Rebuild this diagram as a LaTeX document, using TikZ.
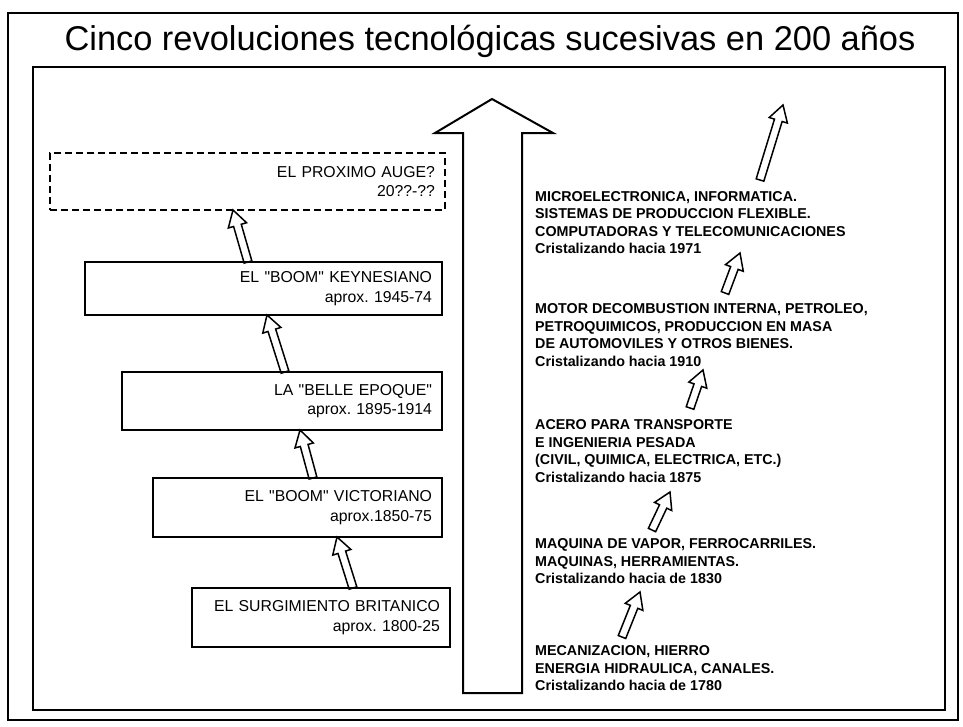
\documentclass[tikz,border=0pt]{standalone}
\usepackage{fontspec}
\setmainfont{Liberation Sans}
\frenchspacing
\usetikzlibrary{calc}
\usetikzlibrary{positioning}
\tikzset{
    Period/.style = {draw=black, line width=1.8pt, align=right, inner xsep=10pt, inner ysep=0pt, font=\fontsize{15.8}{19.5}\selectfont}
}
\tikzset{
    Edge/.style = {draw=black, line width=1.5pt, line join=miter, to path={
        ($(\tikztostart)!4pt!90:(\tikztotarget)$)
        -- ($(\tikztotarget)!16pt!(\tikztostart)!4pt!90:(\tikztotarget)$)
        -- ($(\tikztotarget)!16pt!(\tikztostart)!9.5pt!90:(\tikztotarget)$)
        -- (\tikztotarget)
        -- ($(\tikztotarget)!16pt!(\tikztostart)!9.5pt!-90:(\tikztotarget)$)
        -- ($(\tikztotarget)!16pt!(\tikztostart)!4pt!-90:(\tikztotarget)$)
        -- ($(\tikztostart)!4pt!-90:(\tikztotarget)$) -- cycle}}
}

\begin{document}
\begin{tikzpicture}[
    x=1pt, y=-1pt,
    line join=miter
]
\tikzset{
    Tech/.style = {align=left, anchor=west, inner sep=0pt, font=\bfseries\fontsize{14.3}{17.5}\selectfont},
}
\fill[white] (0,0) rectangle (963,726);
\useasboundingbox (0,0) rectangle (963,726);
\draw[line width=1.4pt] (8,13) rectangle (958,720);
\draw[line width=1.4pt] (33,67) rectangle (945,710);
\node (title) at (490,41) {\fontsize{34.4}{40}\selectfont Cinco revoluciones tecnológicas sucesivas en 200 años};
% big arrow
\draw[line width=2pt] (463,693) -- (463,133) -- (435,133) -- (492,99) -- (553,133) -- (522,133) -- (522,693) -- cycle;
% periods
\node[Period, dash pattern=on 7pt off 4pt, text width=375pt, minimum height=57pt] at (247.5,181.5) (next) {EL PROXIMO AUGE?\\20??-??};
\node[Period, text width=337pt, minimum height=53pt] at (263.5,288.5) (keyn) {EL \textquotedbl BOOM\textquotedbl{} KEYNESIANO\\aprox. 1945-74};
\node[Period, text width=300pt, minimum height=58pt] at (282,401) (belle) {LA \textquotedbl BELLE EPOQUE\textquotedbl\\aprox. 1895-1914};
\node[Period, text width=269pt, minimum height=59pt] at (297.5,507.5) (vict) {EL \textquotedbl BOOM\textquotedbl{} VICTORIANO\\aprox.1850-75};
\node[Period, text width=238pt, minimum height=59pt] at (321,617.5) (brit) {EL SURGIMIENTO BRITANICO\\aprox. 1800-25};
% revolutions
\node[Tech] at (535,222.5) (micro) {MICROELECTRONICA, INFORMATICA.\\SISTEMAS DE PRODUCCION FLEXIBLE.\\COMPUTADORAS Y TELECOMUNICACIONES\\Cristalizando hacia 1971};
\node[Tech] at (535,335) (motor) {MOTOR DECOMBUSTION INTERNA, PETROLEO,\\PETROQUIMICOS, PRODUCCION EN MASA\\DE AUTOMOVILES Y OTROS BIENES.\\Cristalizando hacia 1910};
\node[Tech] at (535,451) (acero) {ACERO PARA TRANSPORTE\\E INGENIERIA PESADA\\(CIVIL, QUIMICA, ELECTRICA, ETC.)\\Cristalizando hacia 1875};
\node[Tech] at (535,561.5) (vapor) {MAQUINA DE VAPOR, FERROCARRILES.\\MAQUINAS, HERRAMIENTAS.\\Cristalizando hacia de 1830};
\node[Tech] at (535,668.5) (mecan) {MECANIZACION, HIERRO\\ENERGIA HIDRAULICA, CANALES.\\Cristalizando hacia de 1780};
% arrow ends
\coordinate (l1s) at (248,262);
\coordinate (l1e) at (233,210);
\coordinate (l2s) at (285,372);
\coordinate (l2e) at (267,315);
\coordinate (l3s) at (313,478);
\coordinate (l3e) at (300,430);
\coordinate (l4s) at (353,588);
\coordinate (l4e) at (337,537);
\coordinate (r1s) at (622,637);
\coordinate (r1e) at (640,592);
\coordinate (r2s) at (652,530);
\coordinate (r2e) at (670,492);
\coordinate (r3s) at (690,408);
\coordinate (r3e) at (703,370);
\coordinate (r4s) at (725,293);
\coordinate (r4e) at (740,253);
\coordinate (r5s) at (760,180);
\coordinate (r5e) at (783,105);
\path (l1s) edge [Edge] (l1e);
\path (l2s) edge [Edge] (l2e);
\path (l3s) edge [Edge] (l3e);
\path (l4s) edge [Edge] (l4e);
\path (r1s) edge [Edge] (r1e);
\path (r2s) edge [Edge] (r2e);
\path (r3s) edge [Edge] (r3e);
\path (r4s) edge [Edge] (r4e);
\path (r5s) edge [Edge] (r5e);
\end{tikzpicture}
\end{document}
